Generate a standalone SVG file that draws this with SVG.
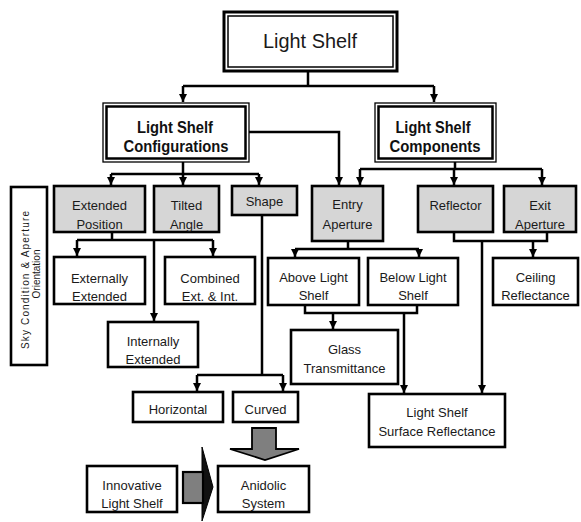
<svg xmlns="http://www.w3.org/2000/svg" width="581" height="522" viewBox="0 0 581 522">
<defs>
<marker id="ah" markerUnits="userSpaceOnUse" markerWidth="9" markerHeight="9" refX="8" refY="4" orient="auto">
<path d="M0,0 L8,4 L0,8 z" fill="#000"/>
</marker>
<style>
.box{fill:#fff;stroke:#000;stroke-width:2.6}
.gbox{fill:#d6d6d6;stroke:#000;stroke-width:2.6}
.t{font-family:"Liberation Sans",Arial,sans-serif;font-size:13px;fill:#1a1a1a;text-anchor:middle}
.h{font-family:"Liberation Sans",Arial,sans-serif;font-size:16px;font-weight:bold;fill:#111;text-anchor:middle}
.c{fill:none;stroke:#000;stroke-width:2.5}
.a{fill:none;stroke:#000;stroke-width:2.5;marker-end:url(#ah)}
</style>
</defs>
<rect width="581" height="522" fill="#fff"/>

<g id="connectors">
<path class="c" d="M308,72 V86 M183,86 H434"/>
<path class="a" d="M183,86 V102"/>
<path class="a" d="M434,86 V102"/>
<path class="c" d="M183,162 V174 M111,174 H259"/>
<path class="a" d="M111,174 V185"/>
<path class="a" d="M183,174 V185"/>
<path class="a" d="M259,174 V185"/>
<path class="a" d="M249,132 H339 V185"/>
<path class="c" d="M455,162 V169 M360,169 H542"/>
<path class="a" d="M360,169 V185"/>
<path class="a" d="M454,169 V185"/>
<path class="a" d="M542,169 V185"/>
<path class="c" d="M112,232 V240 M77,240 H213"/>
<path class="a" d="M77,240 V256"/>
<path class="a" d="M213,240 V256"/>
<path class="a" d="M154,240 V321"/>
<path class="c" d="M262,215 V375 M197,375 H283"/>
<path class="a" d="M197,375 V391"/>
<path class="a" d="M283,375 V391"/>
<path class="c" d="M348,241 V249 M295,249 H419"/>
<path class="a" d="M295,249 V257"/>
<path class="a" d="M419,249 V257"/>
<path class="c" d="M454,232 V241 H547 V232"/>
<path class="a" d="M533,241 V257"/>
<path class="a" d="M482,241 V393"/>
<path class="c" d="M305,305 V313 H417 V305"/>
<path class="a" d="M333,313 V329"/>
<path class="a" d="M404,313 V393"/>
<polygon points="252,428 276,428 276,449 299,449 265,460 230,449 252,449" fill="#7f7f7f" stroke="#000" stroke-width="1.8"/>
<polygon points="202,447 213,487 202,521" fill="#111" stroke="#000" stroke-width="1"/>
<rect x="183" y="472" width="20" height="31" fill="#7f7f7f" stroke="#000" stroke-width="2.2"/>
</g>

<g id="light-shelf">
<rect x="224" y="12" width="173" height="59" fill="#fff" stroke="#000" stroke-width="3"/>
<rect x="228" y="16" width="165" height="51" fill="none" stroke="#000" stroke-width="1.5"/>
<text x="310" y="48" font-family="Liberation Sans, Arial, sans-serif" font-size="21" fill="#1a1a1a" text-anchor="middle" textLength="94" lengthAdjust="spacingAndGlyphs">Light Shelf</text>
</g>

<g id="configurations">
<rect x="103" y="103" width="146" height="59" fill="#fff" stroke="#000" stroke-width="1.3"/>
<rect x="106.5" y="106.5" width="139" height="52" fill="none" stroke="#000" stroke-width="2.5"/>
<text class="h" x="175" y="133" textLength="76" lengthAdjust="spacingAndGlyphs">Light Shelf</text>
<text class="h" x="176" y="152" textLength="105" lengthAdjust="spacingAndGlyphs">Configurations</text>
</g>

<g id="components">
<rect x="375" y="103" width="121" height="59" fill="#fff" stroke="#000" stroke-width="1.3"/>
<rect x="378.5" y="106.5" width="114" height="52" fill="none" stroke="#000" stroke-width="2.5"/>
<text class="h" x="433" y="133" textLength="75" lengthAdjust="spacingAndGlyphs">Light Shelf</text>
<text class="h" x="435" y="152" textLength="91" lengthAdjust="spacingAndGlyphs">Components</text>
</g>

<g id="sky-condition">
<rect x="11" y="187" width="36" height="178" fill="#fff" stroke="#000" stroke-width="2.6"/>
<text transform="translate(29,280) rotate(-90)" font-family="Liberation Sans, Arial, sans-serif" font-size="10" fill="#1a1a1a" text-anchor="middle" textLength="138" lengthAdjust="spacing">Sky Condition &amp; Aperture</text>
<text transform="translate(40,274) rotate(-90)" font-family="Liberation Sans, Arial, sans-serif" font-size="10" fill="#1a1a1a" text-anchor="middle">Orientation</text>
</g>

<g id="extended-position">
<rect class="gbox" x="54" y="186" width="91" height="46"/>
<text class="t" x="99.5" y="210">Extended</text>
<text class="t" x="99.5" y="229">Position</text>
</g>

<g id="tilted-angle">
<rect class="gbox" x="154" y="186" width="65" height="46"/>
<text class="t" x="186.5" y="210">Tilted</text>
<text class="t" x="186.5" y="229">Angle</text>
</g>

<g id="shape">
<rect class="gbox" x="232" y="186" width="65" height="29"/>
<text class="t" x="264.5" y="206">Shape</text>
</g>

<g id="entry-aperture">
<rect class="gbox" x="312" y="186" width="71" height="55"/>
<text class="t" x="347.5" y="209">Entry</text>
<text class="t" x="347.5" y="229">Aperture</text>
</g>

<g id="reflector">
<rect class="gbox" x="418" y="186" width="75" height="46"/>
<text class="t" x="455.5" y="210">Reflector</text>
</g>

<g id="exit-aperture">
<rect class="gbox" x="504" y="186" width="72" height="46"/>
<text class="t" x="540" y="210">Exit</text>
<text class="t" x="540" y="229">Aperture</text>
</g>

<g id="externally-extended">
<rect class="box" x="54" y="257" width="91" height="47"/>
<text class="t" x="99.5" y="283">Externally</text>
<text class="t" x="99.5" y="301">Extended</text>
</g>

<g id="combined">
<rect class="box" x="165" y="257" width="90" height="47"/>
<text class="t" x="210" y="283">Combined</text>
<text class="t" x="210" y="301">Ext. &amp; Int.</text>
</g>

<g id="internally-extended">
<rect class="box" x="108" y="322" width="90" height="45"/>
<text class="t" x="153" y="346">Internally</text>
<text class="t" x="153" y="364">Extended</text>
</g>

<g id="above-light-shelf">
<rect class="box" x="268" y="258" width="91" height="47"/>
<text class="t" x="313.5" y="282">Above Light</text>
<text class="t" x="313.5" y="300">Shelf</text>
</g>

<g id="below-light-shelf">
<rect class="box" x="368" y="258" width="90" height="47"/>
<text class="t" x="413" y="282">Below Light</text>
<text class="t" x="413" y="300">Shelf</text>
</g>

<g id="ceiling-reflectance">
<rect class="box" x="493" y="258" width="85" height="47"/>
<text class="t" x="535.5" y="282">Ceiling</text>
<text class="t" x="535.5" y="300">Reflectance</text>
</g>

<g id="glass-transmittance">
<rect class="box" x="291" y="330" width="107" height="54"/>
<text class="t" x="344.5" y="354">Glass</text>
<text class="t" x="344.5" y="373">Transmittance</text>
</g>

<g id="horizontal">
<rect class="box" x="133" y="392" width="90" height="30"/>
<text class="t" x="178" y="414">Horizontal</text>
</g>

<g id="curved">
<rect class="box" x="233" y="392" width="65" height="30"/>
<text class="t" x="265.5" y="414">Curved</text>
</g>

<g id="surface-reflectance">
<rect class="box" x="369" y="394" width="136" height="53"/>
<text class="t" x="437" y="417">Light Shelf</text>
<text class="t" x="437" y="436">Surface Reflectance</text>
</g>

<g id="innovative-light-shelf">
<rect class="box" x="87" y="466" width="90" height="46"/>
<text class="t" x="132" y="490">Innovative</text>
<text class="t" x="132" y="508">Light Shelf</text>
</g>

<g id="anidolic-system">
<rect class="box" x="218" y="466" width="91" height="46"/>
<text class="t" x="263.5" y="490">Anidolic</text>
<text class="t" x="263.5" y="508">System</text>
</g>
</svg>
